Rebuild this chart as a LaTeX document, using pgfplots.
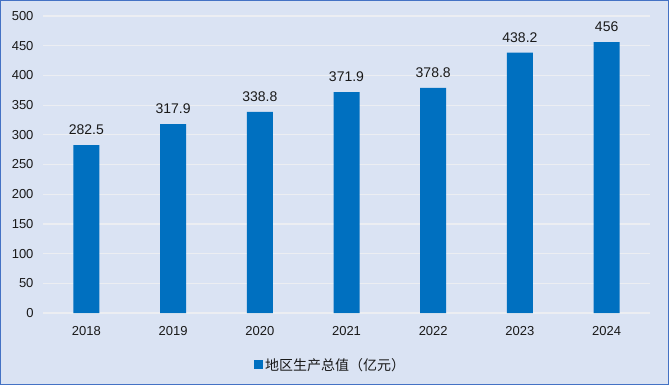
\documentclass[border=0pt]{standalone}
\usepackage{pgfplots}
\pgfplotsset{compat=1.18}
\usepackage{fontspec}
\setmainfont{Liberation Sans}
\newfontfamily\cjk{Noto Sans CJK SC}
\definecolor{bgc}{HTML}{DAE3F3}
\definecolor{barc}{HTML}{0070C0}
\definecolor{framec}{HTML}{4472C4}
\definecolor{gridc}{HTML}{ECEEF2}
\begin{document}
\begin{tikzpicture}[x=1bp,y=1bp]
\fill[bgc] (0,0) rectangle (669,385);
\draw[framec, line width=1.2bp] (0.6,0.6) rectangle (668.4,384.4);
\begin{axis}[
  at={(43bp,72bp)}, anchor=south west,
  scale only axis, width=607bp, height=297bp,
  xmin=-0.5, xmax=6.5, ymin=0, ymax=500,
  ytick={0,50,...,500},
  xtick={0,...,6},
  xticklabels={2018,2019,2020,2021,2022,2023,2024},
  axis line style={draw=none},
  tick style={draw=none},
  ymajorgrids, grid style={gridc, line width=1.2bp},
  /pgf/number format/assume math mode=true,
  ticklabel style={font=\fontsize{13bp}{15bp}\selectfont, text=black!90},
  xticklabel style={yshift=-10bp},
  yticklabel style={xshift=-6bp},
  legend style={at={(0.474,-0.175)}, anchor=center, draw=none, fill=none,
    font=\cjk\fontsize{14bp}{16bp}\selectfont, text=black!90},
  legend image code/.code={\fill[barc] (0bp,-4.5bp) rectangle (9bp,4.5bp);},
  point meta=explicit symbolic,
  nodes near coords,
  every node near coord/.append style={font=\fontsize{14bp}{16bp}\selectfont, text=black!90, yshift=7bp},
]
\addplot[ybar, bar width=26bp, fill=barc, draw=none] coordinates {
  (0,282.5)[282.5] (1,317.9)[317.9] (2,338.8)[338.8] (3,371.9)[371.9]
  (4,378.8)[378.8] (5,438.2)[438.2] (6,456)[456]
};
\addlegendentry{地区生产总值（亿元）}
\end{axis}
\end{tikzpicture}
\end{document}
